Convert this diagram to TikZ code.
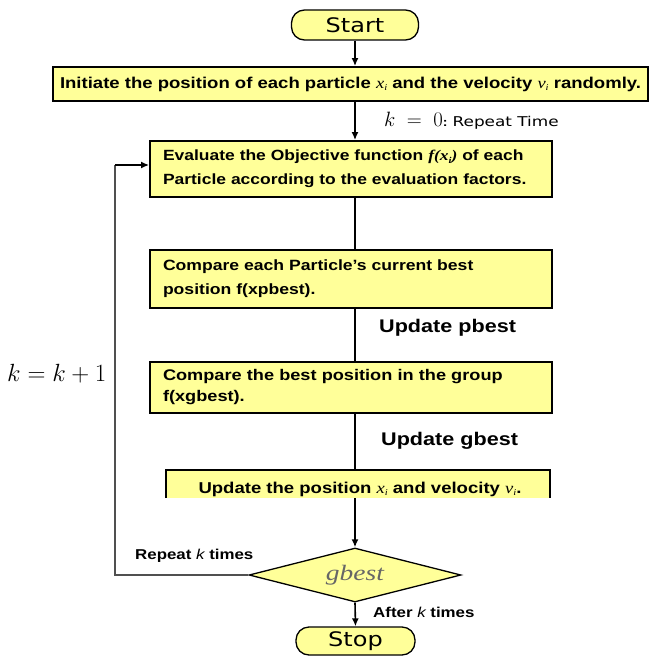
\documentclass[tikz,border=0pt]{standalone}
\usepackage{fontspec}
\setmainfont[FakeStretch=1.18]{Liberation Sans}
\newfontfamily\pillfont[FakeStretch=1.2]{DejaVu Sans}
\newfontfamily\labelfont[FakeStretch=1.25]{DejaVu Sans}
\newfontfamily\varfont[FakeStretch=1.18]{Liberation Serif}
\newfontfamily\condfont[FakeStretch=1.25]{Liberation Serif}
\usetikzlibrary{shapes.geometric,arrows.meta,calc}
\definecolor{boxfill}{HTML}{FFFF99}
\definecolor{loopgray}{HTML}{505050}
% italic variable with a small subscript
\newcommand{\subvar}[2]{{\varfont\itshape\mdseries #1\raisebox{-2.5pt}{\fontsize{9}{9}\selectfont #2}}}
\begin{document}
\begin{tikzpicture}[x=1pt,y=-1pt,
  boxtext/.style={font=\bfseries\fontsize{#1}{24}\selectfont},
  procbox/.style={draw=black,line width=1.8pt,fill=boxfill,inner sep=0pt},
  pill/.style={draw=black,line width=1.3pt,fill=boxfill,rounded corners=13pt,
    inner sep=0pt,font=\pillfont\fontsize{20}{22}\selectfont},
  flow/.style={line width=1.6pt,-{Latex[length=8pt,width=7pt]}},
  plain/.style={line width=1.6pt},
  lbl/.style={font=\bfseries\fontsize{14.3}{16}\selectfont,inner sep=0pt},
  biglbl/.style={font=\bfseries\fontsize{18.3}{20}\selectfont,inner sep=0pt}]
\useasboundingbox (0,0) rectangle (652,658);

% terminals
\node[pill,minimum width=127pt,minimum height=30pt] (start) at (355,25) {Start};
\node[pill,minimum width=119pt,minimum height=28pt] (stop) at (355.5,641) {Stop};

% process boxes
\node[procbox,minimum width=595pt,minimum height=34pt,boxtext=15.7] (init) at (350.5,84)
  {Initiate the position of each particle \subvar{x}{i} and the velocity \subvar{v}{i} randomly.};
\node[procbox,minimum width=402pt,minimum height=56pt,text width=376pt,align=left,
  boxtext=14.8] (eval) at (351,169)
  {Evaluate the Objective function {\varfont\itshape f(x\raisebox{-2.5pt}{\fontsize{9}{9}\selectfont i})} of each\\Particle according to the evaluation factors.};
\node[procbox,minimum width=402pt,minimum height=58pt,text width=376pt,align=left,
  boxtext=14.9] (cmpp) at (351,279)
  {Compare each Particle's current best\\position f(xpbest).};
\node[procbox,minimum width=402pt,minimum height=51pt,text width=376pt,align=left,
  font=\bfseries\fontsize{15.4}{21}\selectfont] (cmpg) at (351,387.5)
  {Compare the best position in the group\\f(xgbest).};

% last update box: filled, outlined on top and sides only
\node[fill=boxfill,minimum width=384pt,minimum height=28pt,inner sep=0pt] (upd) at (358,484) {};
\draw[line width=1.8pt] (upd.south west) -- (upd.north west) -- (upd.north east) -- (upd.south east);
\node[anchor=base,inner sep=0pt,boxtext=15.7] (updtxt) at (360,493)
  {Update the position \subvar{x}{i} and velocity \subvar{v}{i}.};

% decision
\node[diamond,draw=black,line width=1.3pt,fill=boxfill,minimum width=212pt,minimum height=54pt,
  inner sep=0pt,aspect=3.9,font=\condfont\itshape\fontsize{22}{24}\selectfont,text=black!60] (dec) at (355,575)
  {gbest};

% main flow
\draw[flow] (start.south) -- (start.south |- init.north);
\draw[flow] (start.south |- init.south) -- (start.south |- eval.north);
\draw[plain] (start.south |- eval.south) -- (start.south |- cmpp.north);
\draw[plain] (start.south |- cmpp.south) -- (start.south |- cmpg.north);
\draw[plain] (start.south |- cmpg.south) -- (start.south |- upd.north);
\draw[flow] (start.south |- upd.south) -- (dec.north);
\draw[flow] (dec.south) -- (stop.north);

% repeat loop
\coordinate (lbot) at (115,575);
\coordinate (ltop) at (115,165);
\draw[line width=1.8pt,loopgray] (dec.west) -- (lbot) -- (ltop);
\draw[flow] (ltop) -- (ltop -| eval.west);

% labels
\node[anchor=west,inner sep=0pt] (k0) at (384,121)
  {\fontsize{20}{22}\selectfont$k\;=\;0$\fontsize{12}{13}\selectfont\textbf{:}\hspace{5pt}\labelfont\fontsize{13.5}{15}\selectfont Repeat Time};
\node[biglbl,anchor=west] (lp) at (379,328) {Update pbest};
\node[biglbl,anchor=west] (lg) at (381,441) {Update gbest};
\node[anchor=west,inner sep=0pt] (kk) at (7,374) {\fontsize{24}{26}\selectfont$k=k+1$};
\node[lbl,anchor=west] (rep) at (135,556) {Repeat {\mdseries\itshape k} times};
\node[lbl,anchor=west] (aft) at (373,612) {After {\mdseries\itshape k} times};
\end{tikzpicture}
\end{document}
